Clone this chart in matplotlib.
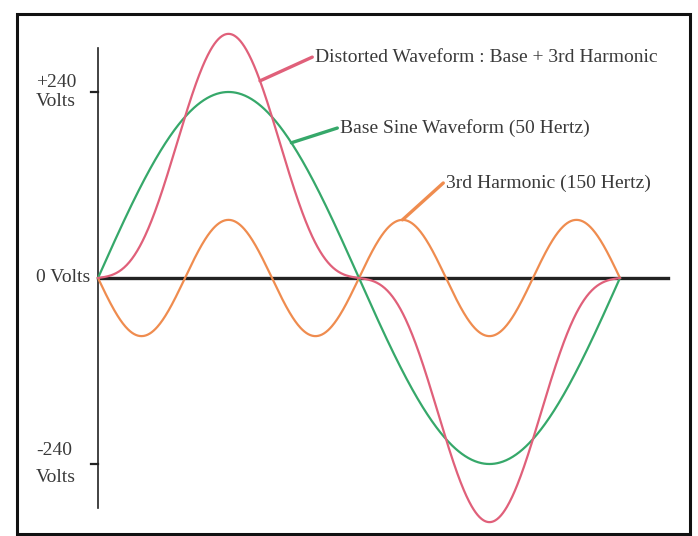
import matplotlib.pyplot as plt
import numpy as np
from matplotlib.patches import Rectangle

# waveform parameters
base_freq = 50        # Hz
base_amp = 240        # volts
harm_freq = 150       # Hz (3rd harmonic)
harm_amp = 75         # volts
period_ms = 20.0

tick_values = [240, 0, -240]
tick_labels = ["+240\nVolts", "0 Volts", "-240\nVolts"]
tick_spacing = [1.2, 1.2, 1.7]

label_distorted = "Distorted Waveform : Base + 3rd Harmonic"
label_base = "Base Sine Waveform (50 Hertz)"
label_harm = "3rd Harmonic (150 Hertz)"

pink = "#e0607a"
green = "#36a86a"
orange = "#ef8c4f"
txt = "#3a3a3a"

t = np.linspace(0, period_ms, 800)
base = base_amp * np.sin(2 * np.pi * base_freq * t / 1000)
harm = -harm_amp * np.sin(2 * np.pi * harm_freq * t / 1000)
distorted = base + harm

plt.rcParams["font.family"] = ["Liberation Serif", "DejaVu Serif"]

fig = plt.figure(figsize=(6.98, 5.36), dpi=100)
ax = fig.add_axes([0, 0, 1, 1])
ax.set_xlim(-3.755, 22.99)
ax.set_ylim(-332.9, 358.7)
ax.axis("off")

# outer frame
fig.patches.append(Rectangle((17 / 698, 2 / 536), 673 / 698, 520 / 536,
                             transform=fig.transFigure, fill=False,
                             edgecolor="#111111", linewidth=2.2))

# axes lines
ax.plot([0, 0], [-296.8, 296.8], color="#222222", lw=1.2)
ax.plot([0, 21.84], [0, 0], color="#222222", lw=2.4)
for v in (240, -240):
    ax.plot([-0.27, 0], [v, v], color="#222222", lw=1.6)

ax.plot(t, harm, color=orange, lw=1.6)
ax.plot(t, base, color=green, lw=1.6)
ax.plot(t, distorted, color=pink, lw=1.6)

for v, lab, ls in zip(tick_values, tick_labels, tick_spacing):
    ax.text(-2.38, v, lab, ha="left", va="center", fontsize=14,
            color=txt, linespacing=ls)


def lead(tx, series, text_xy, label, color):
    i = np.argmin(np.abs(t - tx))
    ax.plot([t[i], text_xy[0] - 0.1], [series[i], text_xy[1]],
            color=color, lw=2.4, solid_capstyle="round")
    ax.text(text_xy[0], text_xy[1], label, ha="left", va="center",
            fontsize=14, color=txt)


lead(6.2, distorted, (8.31, 285), label_distorted, pink)
lead(7.41, base, (9.27, 193.5), label_base, green)
lead(11.67, harm, (13.33, 122.6), label_harm, orange)

fig.savefig("out.png", dpi=100)
